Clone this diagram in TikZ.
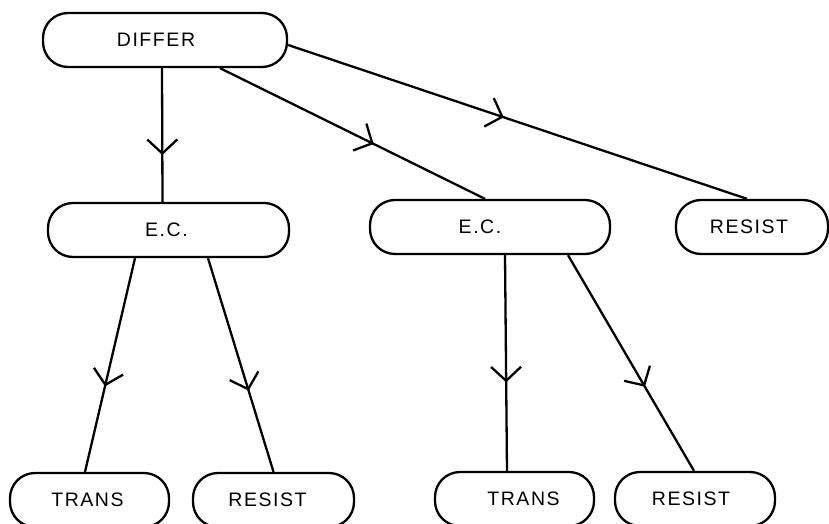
\documentclass[tikz,border=0pt]{standalone}
\usepackage{fontspec}
\setmainfont{Liberation Sans}[LetterSpace=8]
\usetikzlibrary{arrows.meta,decorations.markings,calc}
\begin{document}
\begin{tikzpicture}[x=1pt,y=-1pt,
  line width=2.3pt,
  box/.style={draw, rounded corners=25pt, minimum height=54pt, inner sep=0pt},
  boxtext/.style={font=\fontsize{19.5}{19.5}\selectfont},
  midarrow/.style={postaction={decorate},
    decoration={markings, mark=at position #1 with {\arrow{Straight Barb[length=14pt,width=30pt,line width=2.3pt]}}}}
]
\useasboundingbox (0,0) rectangle (829,524);
\clip (0,0) rectangle (829,524);

% top level
\node[box, minimum width=244pt, label={[boxtext,xshift=-9pt]center:DIFFER}] (differ) at (165,40) {};

% middle level
\node[box, minimum width=241pt, label={[boxtext,xshift=-2pt]center:E.C.}] (ec1) at (168.5,230) {};
\node[box, minimum width=240pt, label={[boxtext,xshift=-10pt]center:E.C.}] (ec2) at (490,227) {};
\node[box, minimum width=152pt, label={[boxtext,xshift=-3pt]center:RESIST}] (res1) at (752,227) {};

% bottom level
\node[box, minimum width=159pt, label={[boxtext,xshift=-2pt]center:TRANS}] (trans1) at (89.5,500) {};
\node[box, minimum width=161pt, label={[boxtext,xshift=-6pt]center:RESIST}] (res2) at (273.5,500) {};
\node[box, minimum width=159pt, label={[boxtext,xshift=9pt]center:TRANS}] (trans2) at (514.5,499) {};
\node[box, minimum width=160pt, label={[boxtext,xshift=-4pt]center:RESIST}] (res3) at (695,499) {};

% connectors
\draw[midarrow=0.65] ([xshift=-3pt]differ.south) -- ([xshift=-6pt]ec1.north);
\draw[midarrow=0.58] ([xshift=55pt]differ.south) -- ([xshift=-5pt]ec2.north);
\draw[midarrow=0.47] ([yshift=-5pt]differ.east) -- ([xshift=-5pt]res1.north);

\draw[midarrow=0.60] ([xshift=-33.5pt]ec1.south) -- ([xshift=-4.5pt]trans1.north);
\draw[midarrow=0.62] ([xshift=39.5pt]ec1.south) -- (res2.north);

\draw[midarrow=0.59] ([xshift=15pt]ec2.south) -- ([xshift=-7.5pt]trans2.north);
\draw[midarrow=0.61] ([xshift=78pt]ec2.south) -- ([xshift=-1pt]res3.north);
\end{tikzpicture}
\end{document}
